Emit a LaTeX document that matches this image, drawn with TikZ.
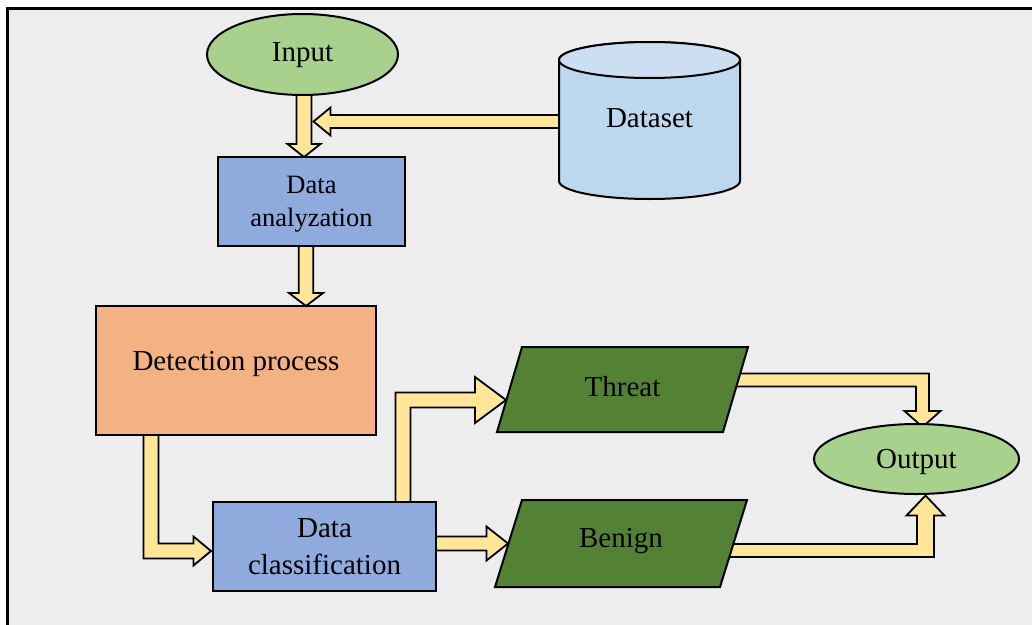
\documentclass[tikz,border=0pt]{standalone}
\usepackage{fontspec}
\setmainfont{Liberation Serif}
\usetikzlibrary{calc,shapes.geometric}
\definecolor{bgc}{HTML}{EDEDED}
\definecolor{greenc}{HTML}{A9D18E}
\definecolor{bluec}{HTML}{8FAADC}
\definecolor{orangec}{HTML}{F4B183}
\definecolor{darkgreenc}{HTML}{548235}
\definecolor{arrowc}{HTML}{FFE699}
\definecolor{cylbody}{HTML}{BDD7EE}
\definecolor{cyltop}{HTML}{CCDFF2}
\pgfdeclarelayer{framelayer}
\pgfdeclarelayer{arrowlayer}
\pgfdeclarelayer{shapelayer}
\pgfsetlayers{framelayer,arrowlayer,shapelayer,main}
\tikzset{
  base/.style={line width=2pt, inner sep=0pt, outer sep=0pt, align=center,
    font=\fontsize{29}{37}\selectfont},
  oneline/.style={text height=19pt, text depth=6pt},
  oval/.style={base, oneline, ellipse, draw, fill=greenc},
  boxblue/.style={base, rectangle, draw, fill=bluec},
  boxorange/.style={base, rectangle, draw, fill=orangec},
  textonly/.style={base, oneline, rectangle},
  fatarrow/.style={draw, fill=arrowc, line width=1.8pt, line join=miter},
  shapeline/.style={draw, line width=2pt, line join=miter},
}
\begin{document}
\begin{tikzpicture}[x=1pt,y=1pt]
\useasboundingbox (0,0) rectangle (1032,-624);
\begin{pgfonlayer}{framelayer}
  \fill[white] (0,0) rectangle (1032,-624);
  \draw[line width=3pt, fill=bgc] (7.5,-8.3) rectangle (1050,-650);
\end{pgfonlayer}

% nodes
\node[oval, minimum width=191pt, minimum height=81pt] (in) at (302.5,-54.5) {Input};
\node[oval, minimum width=205pt, minimum height=70pt, text depth=1pt] (out) at (916.5,-459) {Output};
\node[textonly, minimum width=181pt, minimum height=157pt] (ds) at (649.5,-120.8) {Dataset};
\node[boxblue, font=\fontsize{26.5}{33}\selectfont, minimum width=187pt, minimum height=89pt, text depth=0pt] (ana) at (311.5,-201.5) {Data\\analyzation};
\node[boxorange, minimum width=280pt, minimum height=129pt, text height=20pt, text depth=20pt] (det) at (236,-370.5) {Detection process};
\node[boxblue, minimum width=223pt, minimum height=89pt] (cls) at (324.5,-546.5) {Data\\classification};
\node[textonly, minimum width=251pt, minimum height=85pt] (thr) at (622.5,-389.5) {Threat};
\node[textonly, minimum width=252pt, minimum height=87pt, text depth=12pt] (ben) at (621,-543.5) {Benign};

% shapes drawn behind the texts
\begin{pgfonlayer}{shapelayer}
  \coordinate (dstop) at ($(ds.center)+(0,60.8)$);
  \coordinate (dsbot) at ($(ds.center)+(0,-60.2)$);
  \path[shapeline, fill=cylbody] ($(dstop)+(-90.5,0)$) -- ($(dsbot)+(-90.5,0)$)
    arc[start angle=180, end angle=360, x radius=90.5, y radius=18]
    -- ($(dstop)+(90.5,0)$)
    arc[start angle=0, end angle=180, x radius=90.5, y radius=18] -- cycle;
  \path[shapeline, fill=cyltop] (dstop) ellipse [x radius=90.5, y radius=18];
  \path[shapeline, fill=darkgreenc] ($(thr.north west)+(25,0)$) -- (thr.north east)
    -- ($(thr.south east)+(-25,0)$) -- (thr.south west) -- cycle;
  \path[shapeline, fill=darkgreenc] ($(ben.north west)+(27,0)$) -- (ben.north east)
    -- ($(ben.south east)+(-27,0)$) -- (ben.south west) -- cycle;
\end{pgfonlayer}

% connectors
\coordinate (a1s) at ($(in.south)+(1.5,10)$);
\coordinate (a1t) at (a1s |- ana.north);
\coordinate (a0s) at ($(ds.west)+(10,-0.7)$);
\coordinate (a0m) at (a1s |- a0s);
\coordinate (a0t) at ($(a0m)+(9.5,0)$);
\coordinate (a2s) at ($(ana.south)+(-5.5,5)$);
\coordinate (a2t) at (a2s |- det.north);
\coordinate (a3s) at ($(det.south)+(-85,5)$);
\coordinate (a3t) at ($(cls.west)+(-2,-4.5)$);
\coordinate (a3c) at (a3s |- a3t);
\coordinate (a4s) at ($(cls.north)+(78.5,-5)$);
\coordinate (a4t) at ($(thr.west)+(9,-10.5)$);
\coordinate (a4c) at (a4s |- a4t);
\coordinate (a5t) at ($(ben.west)+(13,0)$);
\coordinate (a5m) at (cls.east |- a5t);
\coordinate (a5s) at ($(a5m)+(-5,0)$);
\coordinate (a6s) at ($(thr.center)+(0,9.5)$);
\coordinate (a6t) at ($(out.north)+(6,-3)$);
\coordinate (a6c) at (a6t |- a6s);
\coordinate (a7s) at ($(ben.center)+(0,-7)$);
\coordinate (a7t) at ($(out.south)+(9,-1.5)$);
\coordinate (a7c) at (a7t |- a7s);

\begin{pgfonlayer}{arrowlayer}
  % Input -> Data analyzation
  \draw[fatarrow] ($(a1s)+(-7.5,0)$) -- ($(a1t)+(-7.5,13)$) -- ($(a1t)+(-16.5,13)$) -- (a1t)
    -- ($(a1t)+(16.5,13)$) -- ($(a1t)+(7.5,13)$) -- ($(a1s)+(7.5,0)$) -- cycle;
  % Dataset -> input arrow
  \draw[fatarrow] ($(a0s)+(0,6.5)$) -- ($(a0t)+(17,6.5)$) -- ($(a0t)+(17,14)$) -- (a0t)
    -- ($(a0t)+(17,-14)$) -- ($(a0t)+(17,-6.5)$) -- ($(a0s)+(0,-6.5)$) -- cycle;
  % Data analyzation -> Detection process
  \draw[fatarrow] ($(a2s)+(-7.3,0)$) -- ($(a2t)+(-7.3,13)$) -- ($(a2t)+(-17,13)$) -- (a2t)
    -- ($(a2t)+(17,13)$) -- ($(a2t)+(7.3,13)$) -- ($(a2s)+(7.3,0)$) -- cycle;
  % Detection process -> Data classification
  \draw[fatarrow] ($(a3s)+(-7.5,0)$) -- ($(a3c)+(-7.5,-7.5)$) -- ($(a3t)+(-17.5,-7.5)$)
    -- ($(a3t)+(-17.5,-14.5)$) -- (a3t) -- ($(a3t)+(-17.5,14.5)$) -- ($(a3t)+(-17.5,7.5)$)
    -- ($(a3c)+(7.5,7.5)$) -- ($(a3s)+(7.5,0)$) -- cycle;
  % Data classification -> Threat
  \draw[fatarrow] ($(a4s)+(-7.5,0)$) -- ($(a4c)+(-7.5,7.5)$) -- ($(a4t)+(-31,7.5)$)
    -- ($(a4t)+(-31,23)$) -- (a4t) -- ($(a4t)+(-31,-23)$) -- ($(a4t)+(-31,-7.5)$)
    -- ($(a4c)+(7.5,-7.5)$) -- ($(a4s)+(7.5,0)$) -- cycle;
  % Data classification -> Benign
  \draw[fatarrow] ($(a5s)+(0,7)$) -- ($(a5t)+(-21.5,7)$) -- ($(a5t)+(-21.5,17)$) -- (a5t)
    -- ($(a5t)+(-21.5,-17)$) -- ($(a5t)+(-21.5,-7)$) -- ($(a5s)+(0,-7)$) -- cycle;
  % Threat -> Output
  \draw[fatarrow] ($(a6s)+(0,6.5)$) -- ($(a6c)+(6.5,6.5)$) -- ($(a6t)+(6.5,16)$)
    -- ($(a6t)+(18,16)$) -- (a6t) -- ($(a6t)+(-18,16)$) -- ($(a6t)+(-6.5,16)$)
    -- ($(a6c)+(-6.5,-6.5)$) -- ($(a6s)+(0,-6.5)$) -- cycle;
  % Benign -> Output
  \draw[fatarrow] ($(a7s)+(0,6.5)$) -- ($(a7c)+(-8.5,6.5)$) -- ($(a7t)+(-8.5,-20)$)
    -- ($(a7t)+(-19,-20)$) -- (a7t) -- ($(a7t)+(19,-20)$) -- ($(a7t)+(8.5,-20)$)
    -- ($(a7c)+(8.5,-6.5)$) -- ($(a7s)+(0,-6.5)$) -- cycle;
\end{pgfonlayer}
\end{tikzpicture}
\end{document}
